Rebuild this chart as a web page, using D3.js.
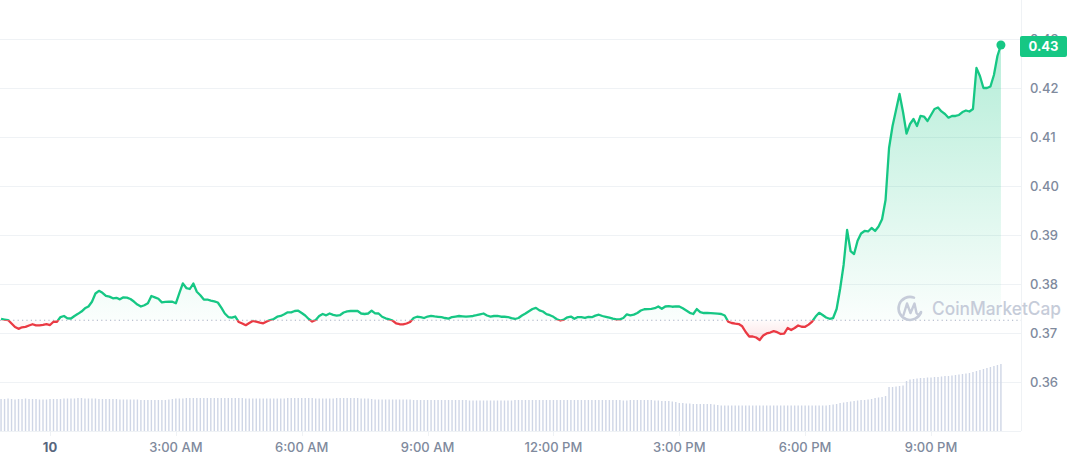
<!DOCTYPE html>
<html><head><meta charset="utf-8">
<script src="https://cdn.jsdelivr.net/npm/d3@7"></script>
<style>body{margin:0;background:#fff}svg{display:block;font-family:Inter,"Noto Sans",sans-serif}</style>
</head><body><svg id="c" width="1068" height="460"></svg>
<script>
// ---- data ----
const startTime = new Date(2024, 0, 9, 22, 50);
const stepMinutes = 5;
const prices = [
0.37286,0.37275,0.37265,0.37194,0.37122,0.37085,0.37116,0.37124,0.37153,0.37179,
0.37155,0.37157,0.37167,0.37179,0.37163,0.37230,0.37230,0.37326,0.37347,0.37298,
0.37296,0.37347,0.37391,0.37438,0.37504,0.37541,0.37638,0.37806,0.37861,0.37820,
0.37757,0.37742,0.37708,0.37718,0.37687,0.37728,0.37722,0.37694,0.37642,0.37581,
0.37541,0.37567,0.37606,0.37755,0.37728,0.37698,0.37626,0.37636,0.37638,0.37638,
0.37606,0.37816,0.38014,0.37918,0.37898,0.38010,0.37842,0.37771,0.37683,0.37683,
0.37659,0.37646,0.37622,0.37518,0.37398,0.37326,0.37312,0.37336,0.37224,0.37194,
0.37159,0.37204,0.37245,0.37230,0.37212,0.37198,0.37236,0.37265,0.37286,0.37332,
0.37347,0.37381,0.37422,0.37422,0.37449,0.37455,0.37408,0.37357,0.37286,0.37234,
0.37265,0.37347,0.37388,0.37361,0.37398,0.37371,0.37355,0.37367,0.37418,0.37441,
0.37449,0.37453,0.37449,0.37398,0.37388,0.37398,0.37455,0.37402,0.37398,0.37332,
0.37300,0.37279,0.37255,0.37194,0.37179,0.37177,0.37194,0.37224,0.37306,0.37332,
0.37326,0.37306,0.37336,0.37351,0.37338,0.37330,0.37322,0.37306,0.37293,0.37326,
0.37336,0.37347,0.37340,0.37334,0.37340,0.37347,0.37363,0.37381,0.37398,0.37357,
0.37336,0.37347,0.37347,0.37332,0.37332,0.37326,0.37302,0.37286,0.37306,0.37357,
0.37398,0.37445,0.37489,0.37514,0.37463,0.37438,0.37385,0.37363,0.37330,0.37281,
0.37255,0.37275,0.37320,0.37336,0.37290,0.37326,0.37326,0.37310,0.37330,0.37322,
0.37355,0.37373,0.37347,0.37330,0.37314,0.37292,0.37279,0.37279,0.37306,0.37381,
0.37361,0.37375,0.37408,0.37459,0.37485,0.37489,0.37494,0.37506,0.37541,0.37494,
0.37541,0.37547,0.37536,0.37544,0.37541,0.37504,0.37459,0.37412,0.37388,0.37489,
0.37424,0.37408,0.37412,0.37406,0.37400,0.37394,0.37388,0.37357,0.37230,0.37204,
0.37192,0.37183,0.37137,0.37020,0.36929,0.36929,0.36908,0.36857,0.36949,0.36992,
0.37010,0.37037,0.37016,0.36980,0.36988,0.37102,0.37061,0.37102,0.37153,0.37128,
0.37126,0.37171,0.37234,0.37336,0.37412,0.37367,0.37316,0.37290,0.37306,0.37489,
0.37898,0.38388,0.39102,0.38673,0.38612,0.38884,0.39031,0.39082,0.39072,0.39143,
0.39082,0.39174,0.39321,0.39715,0.40776,0.41225,0.41551,0.41878,0.41510,0.41071,
0.41265,0.41367,0.41225,0.41429,0.41418,0.41327,0.41449,0.41571,0.41602,0.41522,
0.41469,0.41394,0.41429,0.41429,0.41449,0.41510,0.41541,0.41520,0.41571,0.42408,
0.42245,0.42000,0.42000,0.42031,0.42265,0.42653,0.42878
];
const volumes = [
32,32,32.5,32,31.5,32,32,32.5,32,32,
32,31.5,31.5,31.5,32,32,32,32,32.5,32.5,
32.5,32.5,33,33,32.5,32.5,32.5,32.5,32,32,
32,32,32,32,31.5,31.5,31.5,31.5,31.5,31.5,
31,31,31,31,31,31,31,31,31.5,32,
32.5,32.5,32.5,33,33,33,33,33,33,33,
33,33,33,33,33,33,33,33,33,33,
32.5,32.5,32.5,32.5,32.5,32.5,32.5,32.5,32.5,32.5,
32.5,32.5,33,33,33,33,33,33,33,33,
32.5,32.5,32.5,32.5,32.5,32.5,33,33,33,33,
33,33,33,32.5,32.5,32.5,32,31.5,31.5,31.5,
31.5,31.5,31.5,31.5,31.5,31.5,31.5,31.5,31,31,
31,31,31,31,31,31,31,31,31,31,
31,31,31,31,30.5,30.5,30.5,30.5,30.5,30.5,
30.5,30.5,30.5,30.5,30.5,30.5,30.5,31,31,31,
31,31,31,31,31,31,31,31,31,31,
31,31,31,31,31,31,31,31,31,31,
31,31,31,31,31,31,31,31,30.5,30.5,
31,31,31,31,31,31,31,30.5,30.5,30,
30,30,29.5,29,28,28,27.5,27.5,27,27,
27,27,27,27,26.5,26,25.5,25.5,25.5,25.5,
25.5,25.5,25.5,25.5,25.5,25.5,25.5,25.5,25.5,25.5,
25.5,25.5,25.5,25.5,25.5,25.5,25.5,25.5,25.5,25.5,
25.5,25.5,25.5,25.5,25.5,25.5,25.5,26,26.5,27,
28,28.5,29,29.5,30,30.5,31,31,31.5,32,
33,33.5,34,35,44,44,44.5,45,45.5,50,
51.5,52,52.5,53,53,53.5,53.5,54,54,54.5,
55,55,55.5,56,56.5,57,57.5,58,59,60,
61,62,63,64,65,66,67
];
const baselinePrice = 0.3726;
const yTickValues = [0.36, 0.37, 0.38, 0.39, 0.40, 0.41, 0.42, 0.43];
const yTickLabels = ["0.36", "0.37", "0.38", "0.39", "0.40", "0.41", "0.42", "0.43"];
const xTickHours = [0, 3, 6, 9, 12, 15, 18, 21];
const xTickLabels = ["10", "3:00 AM", "6:00 AM", "9:00 AM", "12:00 PM", "3:00 PM", "6:00 PM", "9:00 PM"];

// ---- colours ----
const GREEN = "#16c784", RED = "#ea3943";

const svg = d3.select("#c");
const day = (h) => new Date(2024, 0, 10, h, 0);
const x = d3.scaleTime().domain([day(0), day(21)]).range([50, 931]);
const y = d3.scaleLinear().domain([0.36, 0.43]).range([382, 39]);
const yVol = d3.scaleLinear().domain([0, 70]).range([431, 361]);
const plotRight = 1021;

const data = prices.map((p, i) => ({
  t: new Date(startTime.getTime() + i * stepMinutes * 60000),
  p, v: volumes[i]
}));
const yBase = y(baselinePrice);

const defs = svg.append("defs");
defs.append("clipPath").attr("id", "above").append("rect")
  .attr("x", 0).attr("y", 0).attr("width", 1068).attr("height", yBase);
defs.append("clipPath").attr("id", "below").append("rect")
  .attr("x", 0).attr("y", yBase).attr("width", 1068).attr("height", 460 - yBase);
const pMax = d3.max(prices), pMin = d3.min(prices);
const gg = defs.append("linearGradient").attr("id", "gG")
  .attr("gradientUnits", "userSpaceOnUse").attr("x1", 0).attr("x2", 0)
  .attr("y1", y(pMax)).attr("y2", yBase);
gg.append("stop").attr("offset", 0).attr("stop-color", GREEN).attr("stop-opacity", 0.32);
gg.append("stop").attr("offset", 1).attr("stop-color", GREEN).attr("stop-opacity", 0.02);
const rg = defs.append("linearGradient").attr("id", "gR")
  .attr("gradientUnits", "userSpaceOnUse").attr("x1", 0).attr("x2", 0)
  .attr("y1", yBase).attr("y2", y(pMin));
rg.append("stop").attr("offset", 0).attr("stop-color", RED).attr("stop-opacity", 0.02);
rg.append("stop").attr("offset", 1).attr("stop-color", RED).attr("stop-opacity", 0.14);

// gridlines
svg.append("g").selectAll("line").data(yTickValues).join("line")
  .attr("x1", 0).attr("x2", plotRight)
  .attr("y1", d => Math.round(y(d)) + 0.5).attr("y2", d => Math.round(y(d)) + 0.5)
  .attr("stroke", "#eff2f5").attr("stroke-width", 1);
svg.append("line").attr("x1", 0).attr("x2", plotRight).attr("y1", 431.5).attr("y2", 431.5)
  .attr("stroke", "#eff2f5");
svg.append("line").attr("x1", plotRight + 0.5).attr("x2", plotRight + 0.5).attr("y1", 0).attr("y2", 431)
  .attr("stroke", "#eff2f5");
svg.append("g").selectAll("line").data(xTickHours).join("line")
  .attr("x1", d => Math.round(x(day(d))) + 0.5).attr("x2", d => Math.round(x(day(d))) + 0.5)
  .attr("y1", 431).attr("y2", 436).attr("stroke", "#eff2f5");

// volume bars
svg.append("g").selectAll("rect").data(data).join("rect")
  .attr("x", d => x(d.t) - 0.7).attr("width", 1.4)
  .attr("y", d => yVol(d.v)).attr("height", d => yVol(0) - yVol(d.v))
  .attr("fill", "#cfd6e6");

// areas
const area = d3.area().x(d => x(d.t)).y0(yBase).y1(d => y(d.p));
svg.append("path").datum(data).attr("d", area).attr("fill", "url(#gG)").attr("clip-path", "url(#above)");
svg.append("path").datum(data).attr("d", area).attr("fill", "url(#gR)").attr("clip-path", "url(#below)");

// baseline dotted
svg.append("line").attr("x1", 0).attr("x2", plotRight).attr("y1", yBase).attr("y2", yBase)
  .attr("stroke", "#a6b0c3").attr("stroke-width", 1).attr("stroke-dasharray", "1.2,3.2");

// watermark
const wm = svg.append("g").attr("fill", "none").attr("stroke", "#c6ccd9");
wm.append("path").attr("stroke-width", 2.6).attr("stroke-linecap", "round")
  .attr("d", "M 921 312 A 11.5 11.5 0 1 1 914 297.6");
wm.append("path").attr("stroke-width", 2.4).attr("stroke-linecap", "round").attr("stroke-linejoin", "round")
  .attr("d", "M 903.5 315 L 907 303.5 L 910.5 313 L 914.5 303.5 L 916.5 313 Q 918 316 921 313");
svg.append("text").attr("x", 932).attr("y", 315).text("CoinMarketCap")
  .attr("fill", "#c6ccd9").attr("font-size", 18).attr("font-weight", 500)
  .attr("textLength", 129).attr("lengthAdjust", "spacingAndGlyphs");

// line
const line = d3.line().x(d => x(d.t)).y(d => y(d.p));
svg.append("path").datum(data).attr("d", line).attr("fill", "none").attr("stroke", GREEN)
  .attr("stroke-width", 2.3).attr("stroke-linejoin", "round").attr("clip-path", "url(#above)");
svg.append("path").datum(data).attr("d", line).attr("fill", "none").attr("stroke", RED)
  .attr("stroke-width", 2.3).attr("stroke-linejoin", "round").attr("clip-path", "url(#below)");
const last = data[data.length - 1];
svg.append("circle").attr("cx", x(last.t)).attr("cy", y(last.p)).attr("r", 4.5).attr("fill", GREEN);

// y labels
svg.append("g").selectAll("text").data(yTickValues).join("text")
  .attr("x", 1030).attr("y", d => y(d) + 4.5)
  .text((d, i) => yTickLabels[i])
  .attr("fill", "#808a9d").attr("font-size", 13).attr("font-weight", 500);

// current price label
svg.append("rect").attr("x", 1020).attr("y", 36).attr("width", 47).attr("height", 21).attr("rx", 2)
  .attr("fill", GREEN);
svg.append("text").attr("x", 1043.5).attr("y", 51).attr("text-anchor", "middle")
  .text(last.p.toFixed(2)).attr("fill", "#fff").attr("font-size", 13).attr("font-weight", 700);

// x labels
svg.append("g").selectAll("text").data(xTickHours).join("text")
  .attr("x", d => x(day(d))).attr("y", 452).attr("text-anchor", "middle")
  .text((d, i) => xTickLabels[i])
  .attr("fill", (d, i) => i === 0 ? "#58667e" : "#808a9d")
  .attr("font-weight", (d, i) => i === 0 ? 700 : 500)
  .attr("font-size", 13);
</script></body></html>
